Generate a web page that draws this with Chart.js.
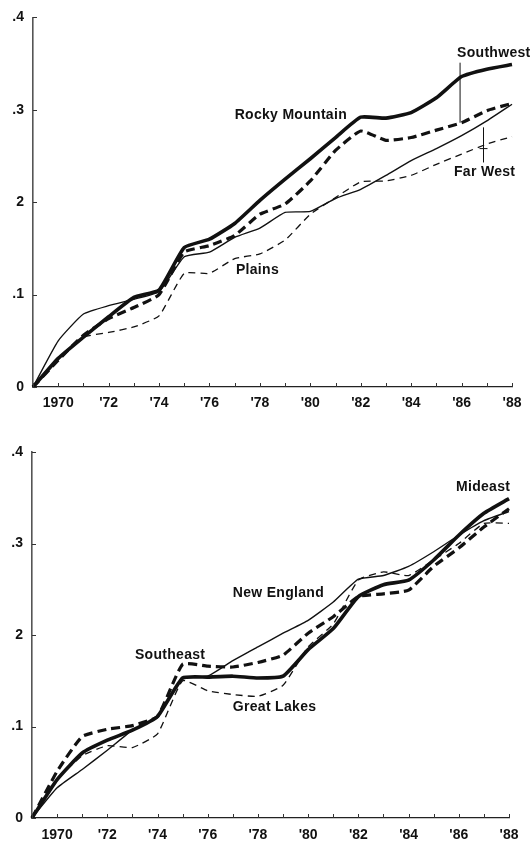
<!DOCTYPE html>
<html>
<head>
<meta charset="utf-8">
<script src="https://cdn.jsdelivr.net/npm/chart.js@4/dist/chart.umd.min.js"></script>
<style>
  html, body { margin: 0; padding: 0; background: #fff; }
  #wrap { position: relative; width: 532px; height: 842px; }
  #top { position: absolute; left: 0; top: 0; }
  #bottom { position: absolute; left: 0; top: 420px; }
</style>
</head>
<body>
<div id="wrap">
  <canvas id="top" width="532" height="420"></canvas>
  <canvas id="bottom" width="532" height="422"></canvas>
</div>
<script>
// anos e rótulos
const anos = [1969, 1970, 1971, 1972, 1973, 1974, 1975, 1976, 1977, 1978,
  1979, 1980, 1981, 1982, 1983, 1984, 1985, 1986, 1987, 1988];
const yTickLabels = ["0", ".1", "2", ".3", ".4"];

// painel de cima
const rockyMountain = [0, 0.031, 0.054, 0.076, 0.097, 0.105, 0.151, 0.160, 0.177, 0.202,
  0.225, 0.247, 0.270, 0.292, 0.291, 0.297, 0.313, 0.336, 0.344, 0.349];
const southwest = [0, 0.029, 0.056, 0.074, 0.086, 0.100, 0.146, 0.153, 0.164, 0.187,
  0.198, 0.223, 0.256, 0.277, 0.267, 0.270, 0.278, 0.286, 0.299, 0.307];
const farWest = [0, 0.050, 0.079, 0.088, 0.095, 0.103, 0.141, 0.146, 0.162, 0.172,
  0.189, 0.190, 0.204, 0.214, 0.229, 0.245, 0.258, 0.272, 0.288, 0.306];
const plains = [0, 0.031, 0.054, 0.059, 0.065, 0.077, 0.123, 0.123, 0.139, 0.144,
  0.159, 0.187, 0.205, 0.222, 0.223, 0.229, 0.241, 0.252, 0.263, 0.271];

// painel de baixo
const mideast = [0, 0.042, 0.071, 0.085, 0.096, 0.111, 0.153, 0.154, 0.155, 0.153,
  0.155, 0.184, 0.207, 0.242, 0.255, 0.260, 0.282, 0.309, 0.333, 0.349];
const southeast = [0, 0.051, 0.089, 0.097, 0.101, 0.111, 0.168, 0.166, 0.165, 0.170,
  0.178, 0.202, 0.220, 0.242, 0.245, 0.249, 0.275, 0.295, 0.318, 0.338];
const newEngland = [0, 0.033, 0.053, 0.074, 0.096, 0.111, 0.153, 0.155, 0.172, 0.187,
  0.202, 0.216, 0.236, 0.261, 0.265, 0.275, 0.291, 0.309, 0.325, 0.335];
const greatLakes = [0, 0.042, 0.068, 0.079, 0.077, 0.092, 0.150, 0.139, 0.135, 0.133,
  0.145, 0.187, 0.212, 0.260, 0.269, 0.265, 0.282, 0.300, 0.322, 0.322];

const FONTE = "'Liberation Sans', Arial, sans-serif";
const TINTA = "#111";

const pontos = (vals) => vals.map((v, i) => ({ x: anos[i], y: v }));

// estilos das quatro linhas
const grossaCheia = { borderWidth: 3.6, borderDash: [] };
const grossaTraco = { borderWidth: 3.2, borderDash: [9, 5] };
const finaCheia = { borderWidth: 1.4, borderDash: [] };
const finaTraco = { borderWidth: 1.3, borderDash: [7, 5] };

function serie(label, vals, estilo) {
  return {
    label,
    data: pontos(vals),
    borderColor: TINTA,
    borderWidth: estilo.borderWidth,
    borderDash: estilo.borderDash,
    pointRadius: 0,
    tension: 0.15,
    fill: false,
    clip: false
  };
}

// marcas curtas para dentro dos eixos + textos dos rótulos
const marcasPlugin = {
  id: "marcas",
  afterDraw(chart, args, opts) {
    const ctx = chart.ctx;
    const xs = chart.scales.x;
    const ys = chart.scales.y;
    const area = chart.chartArea;
    ctx.save();
    ctx.strokeStyle = "#333";
    ctx.lineWidth = 1;
    anos.forEach((a) => {
      const px = Math.round(xs.getPixelForValue(a)) + 0.5;
      ctx.beginPath();
      ctx.moveTo(px, area.bottom);
      ctx.lineTo(px, area.bottom - 4);
      ctx.stroke();
    });
    yTickLabels.forEach((_, i) => {
      const py = Math.round(ys.getPixelForValue(i / 10)) + 0.5;
      ctx.beginPath();
      ctx.moveTo(area.left, py);
      ctx.lineTo(area.left + 4, py);
      ctx.stroke();
    });

    ctx.fillStyle = TINTA;
    ctx.font = "bold 14px " + FONTE;
    ctx.letterSpacing = "0.3px";
    ctx.textAlign = "left";
    ctx.textBaseline = "middle";
    (opts.textos || []).forEach((t) => {
      ctx.fillText(t.texto, xs.getPixelForValue(t.x), ys.getPixelForValue(t.y));
    });

    ctx.strokeStyle = TINTA;
    ctx.lineWidth = 1;
    (opts.guias || []).forEach((g) => {
      const px = xs.getPixelForValue(g.x);
      ctx.beginPath();
      ctx.moveTo(px, ys.getPixelForValue(g.y1));
      ctx.lineTo(px, ys.getPixelForValue(g.y2));
      if (g.cruz !== undefined) {
        const pc = ys.getPixelForValue(g.cruz);
        ctx.moveTo(px - 4, pc);
        ctx.lineTo(px + 4, pc);
      }
      ctx.stroke();
    });
    ctx.restore();
  }
};

function montarGrafico(id, datasets, cfg) {
  return new Chart(document.getElementById(id), {
    type: "line",
    data: { datasets },
    plugins: [marcasPlugin],
    options: {
      responsive: false,
      animation: false,
      devicePixelRatio: 1,
      layout: {
        autoPadding: false,
        padding: { top: cfg.topo, right: 532 - cfg.direita, bottom: 0, left: 0 }
      },
      plugins: {
        legend: { display: false },
        tooltip: { enabled: false },
        marcas: { textos: cfg.textos, guias: cfg.guias }
      },
      scales: {
        x: {
          type: "linear",
          min: 1969,
          max: 1988,
          afterBuildTicks: (s) => {
            s.ticks = anos.map((a) => ({ value: a }));
          },
          afterFit: (s) => {
            s.height = cfg.alturaX;
          },
          grid: { display: false, drawTicks: false },
          border: { display: true, color: "#222", width: 1.2 },
          ticks: {
            autoSkip: false,
            maxRotation: 0,
            padding: cfg.padX,
            color: TINTA,
            font: { family: FONTE, size: 14, weight: "bold" },
            callback: (v) => {
              if (v === 1970) return "1970";
              if (v % 2 === 0 && v > 1970) return "'" + String(v).slice(2);
              return "";
            }
          }
        },
        y: {
          min: 0,
          max: 0.4,
          afterBuildTicks: (s) => {
            s.ticks = yTickLabels.map((_, i) => ({ value: i / 10 }));
          },
          afterFit: (s) => {
            s.width = cfg.esquerda;
          },
          grid: { display: false, drawTicks: false },
          border: { display: true, color: "#555", width: 1.6 },
          ticks: {
            padding: 9,
            color: TINTA,
            font: { family: FONTE, size: 14, weight: "bold" },
            callback: (v) => yTickLabels[Math.round(v * 10)]
          }
        }
      }
    }
  });
}

montarGrafico("top", [
  serie("Rocky Mountain", rockyMountain, grossaCheia),
  serie("Southwest", southwest, grossaTraco),
  serie("Far West", farWest, finaCheia),
  serie("Plains", plains, finaTraco)
], {
  topo: 16, direita: 512, esquerda: 33, alturaX: 33, padX: 8,
  textos: [
    { texto: "Southwest", x: 1985.82, y: 0.361 },
    { texto: "Rocky Mountain", x: 1977.0, y: 0.294 },
    { texto: "Far West", x: 1985.7, y: 0.232 },
    { texto: "Plains", x: 1977.05, y: 0.126 }
  ],
  guias: [
    { x: 1985.94, y1: 0.351, y2: 0.286 },
    { x: 1986.87, y1: 0.281, y2: 0.243, cruz: 0.258 }
  ]
});

montarGrafico("bottom", [
  serie("Mideast", mideast, grossaCheia),
  serie("Southeast", southeast, grossaTraco),
  serie("New England", newEngland, finaCheia),
  serie("Great Lakes", greatLakes, finaTraco)
], {
  topo: 32, direita: 509, esquerda: 32, alturaX: 24, padX: 9,
  textos: [
    { texto: "Mideast", x: 1985.89, y: 0.362 },
    { texto: "New England", x: 1977.0, y: 0.246 },
    { texto: "Southeast", x: 1973.1, y: 0.178 },
    { texto: "Great Lakes", x: 1977.0, y: 0.121 }
  ],
  guias: []
});
</script>
</body>
</html>
